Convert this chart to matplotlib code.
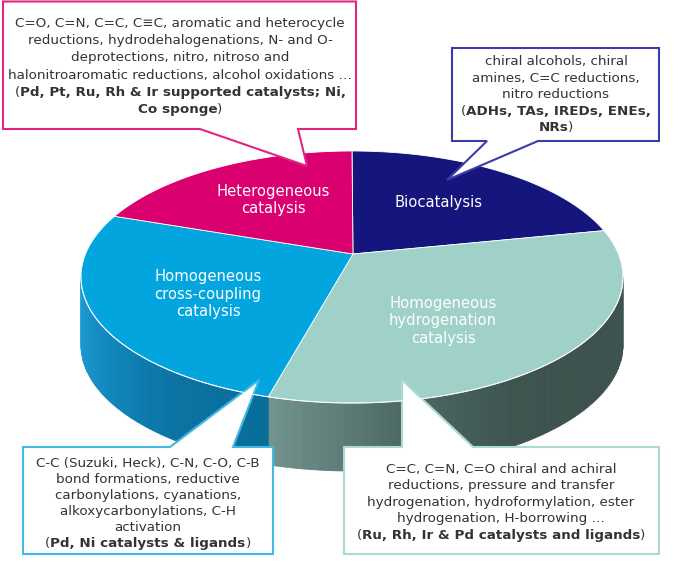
import numpy as np
import matplotlib.pyplot as plt
from matplotlib.patches import Polygon
from matplotlib.colors import to_rgb

# pie slices, clockwise from 12 o'clock
categories = ['Biocatalysis',
              'Homogeneous\nhydrogenation\ncatalysis',
              'Homogeneous\ncross-coupling\ncatalysis',
              'Heterogeneous\ncatalysis']
shares = [19, 36, 28, 17]
top_colors = ['#15157e', '#9fd1c9', '#03a5de', '#da0070']
side_colors = [['#0d0d5c', '#0d0d5c'],
               ['#73948f', '#4f6b67', '#3e544f', '#3d524e', '#3d524e'],
               ['#22a0d8', '#1289bf', '#0b74a4', '#096c99'],
               ['#a00052', '#a00052']]

# callout texts: each line is a list of (text, bold)
het_text = [[('C=O, C=N, C=C, C≡C, aromatic and heterocycle', 0)],
            [('reductions, hydrodehalogenations, N- and O-', 0)],
            [('deprotections, nitro, nitroso and', 0)],
            [('halonitroaromatic reductions, alcohol oxidations …', 0)],
            [('(', 0), ('Pd, Pt, Ru, Rh & Ir supported catalysts; Ni,', 1)],
            [('Co sponge', 1), (')', 0)]]
bio_text = [[('chiral alcohols, chiral', 0)],
            [('amines, C=C reductions,', 0)],
            [('nitro reductions', 0)],
            [('(', 0), ('ADHs, TAs, IREDs, ENEs,', 1)],
            [('NRs', 1), (')', 0)]]
cc_text = [[('C-C (Suzuki, Heck), C-N, C-O, C-B', 0)],
           [('bond formations, reductive', 0)],
           [('carbonylations, cyanations,', 0)],
           [('alkoxycarbonylations, C-H', 0)],
           [('activation', 0)],
           [('(', 0), ('Pd, Ni catalysts & ligands', 1), (')', 0)]]
hyd_text = [[('C=C, C=N, C=O chiral and achiral', 0)],
            [('reductions, pressure and transfer', 0)],
            [('hydrogenation, hydroformylation, ester', 0)],
            [('hydrogenation, H-borrowing …', 0)],
            [('(', 0), ('Ru, Rh, Ir & Pd catalysts and ligands', 1), (')', 0)]]

# layout (pixels)
CX, CY, A, B = 352, 277, 271, 126
VX, VY = 353, 254
DEPTH = 68
label_xy = [(438, 203), (443, 321), (208, 294), (273, 200)]

fig = plt.figure(figsize=(6.8, 5.74), dpi=100)
ax = fig.add_axes([0, 0, 1, 1])
ax.set_xlim(0, 680)
ax.set_ylim(574, 0)
ax.axis('off')


def arc(t1, t2, n=80, dy=0):
    t = np.radians(np.linspace(t1, t2, n))
    return np.column_stack([CX + A * np.cos(t), CY - B * np.sin(t) + dy])


def blend(stops, f):
    stops = np.array([to_rgb(c) for c in stops])
    pos = np.linspace(0, 1, len(stops))
    return tuple(np.interp(f, pos, stops[:, k]) for k in range(3))


# slice angles
angles = []
start = 90.0
for s in shares:
    end = start - 360.0 * s / sum(shares)
    angles.append((start, end))
    start = end

# side walls (only front half visible)
for (t0, t1), cols in zip(angles, side_colors):
    lo, hi = max(t1, -180), min(t0, 0)
    if lo >= hi:
        continue
    edges = np.linspace(lo, hi, 60)
    for k in range(len(edges) - 1):
        a1, a2 = edges[k], edges[k + 1]
        top = arc(a1, a2, 4)
        bot = arc(a2, a1, 4, DEPTH)
        c = blend(cols, (k + 0.5) / (len(edges) - 1))
        ax.add_patch(Polygon(np.vstack([top, bot]), closed=True,
                             fc=c, ec=c, lw=0.6))

# top faces
for (t0, t1), col in zip(angles, top_colors):
    pts = np.vstack([[VX, VY], arc(t0, t1, 120)])
    ax.add_patch(Polygon(pts, closed=True, fc=col, ec='white', lw=0.6))

front = arc(-180, 0, 150)
ax.plot(front[:, 0], front[:, 1], color='white', lw=0.8, alpha=0.8)

for name, (x, y) in zip(categories, label_xy):
    ax.text(x, y, name, color='white', fontsize=10.6, ha='center',
            va='center', linespacing=1.2)

# callout shapes
boxes = [
    ('#e0267f', [(3, 1.5), (356, 1.5), (356, 129), (298, 129), (307, 166),
                 (200, 129), (3, 129)], 180, 22, 17.2, het_text),
    ('#3b3bab', [(452, 48), (659, 48), (659, 141), (538, 141), (447, 180),
                 (487, 141), (452, 141)], 556, 60, 16.6, bio_text),
    ('#42b8e2', [(23, 447), (170, 447), (259, 380), (233, 447), (273, 447),
                 (273, 554), (23, 554)], 148, 462, 16.1, cc_text),
    ('#acdad3', [(344, 447), (402, 447), (402, 380), (473, 447), (659, 447),
                 (659, 554), (344, 554)], 501, 468, 16.4, hyd_text),
]

renderer = fig.canvas.get_renderer()


def rich_line(x, y, segs):
    texts = [ax.text(0, y, s, fontsize=9.7, color='#333333',
                     fontweight='bold' if b else 'normal',
                     ha='left', va='center_baseline') for s, b in segs]
    widths = [t.get_window_extent(renderer).width for t in texts]
    x0 = x - sum(widths) / 2
    for t, w in zip(texts, widths):
        t.set_x(x0)
        x0 += w


for ec, pts, tx, ty, step, lines in boxes:
    ax.add_patch(Polygon(pts, closed=True, fc='white', ec=ec, lw=1.5,
                         joinstyle='miter'))
    for i, segs in enumerate(lines):
        rich_line(tx, ty + i * step, segs)

fig.savefig('out.png', dpi=100)
